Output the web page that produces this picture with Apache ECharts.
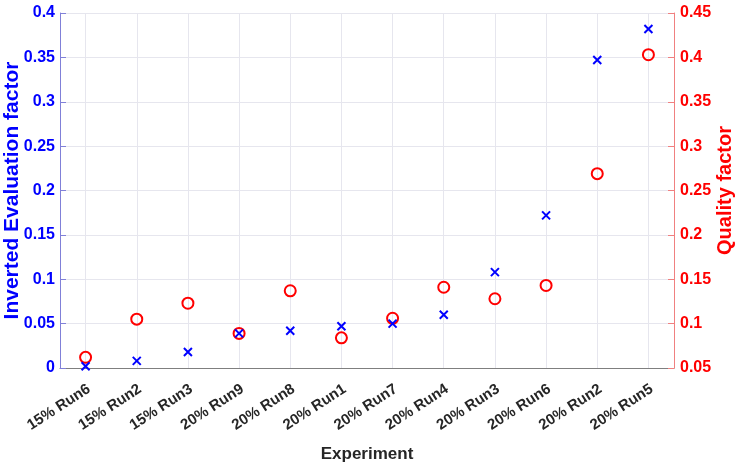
<!DOCTYPE html>
<html>
<head>
<meta charset="utf-8">
<script src="https://cdn.jsdelivr.net/npm/echarts@6/dist/echarts.min.js"></script>
<style>
  html, body { margin: 0; padding: 0; background: #fff; }
  #main { width: 736px; height: 475px; }
</style>
</head>
<body>
<div id="main"></div>
<script>
var experiments = ["15% Run6", "15% Run2", "15% Run3", "20% Run9", "20% Run8", "20% Run1",
  "20% Run7", "20% Run4", "20% Run3", "20% Run6", "20% Run2", "20% Run5"];
var invertedEval = [0.002, 0.008, 0.018, 0.039, 0.042, 0.047, 0.050, 0.060, 0.108, 0.172, 0.347, 0.382];
var qualityFactor = [0.062, 0.105, 0.123, 0.089, 0.137, 0.084, 0.106, 0.141, 0.128, 0.143, 0.269, 0.403];

var font = "Liberation Sans";
var myChart = echarts.init(document.getElementById("main"));

var option = {
  animation: false,
  textStyle: { fontFamily: font },
  grid: { left: 60, right: 62, top: 13, bottom: 107, containLabel: false, outerBoundsMode: "none" },
  xAxis: {
    type: "category",
    data: experiments,
    boundaryGap: true,
    name: "Experiment",
    nameLocation: "middle",
    nameGap: 78,
    nameMoveOverlap: false,
    nameTextStyle: { color: "#262626", fontSize: 17, fontWeight: "bold", fontFamily: font },
    axisLine: { lineStyle: { color: "#7f7f7f", width: 1 } },
    axisTick: { inside: true, alignWithLabel: true, length: 5, lineStyle: { color: "#7f7f7f" } },
    axisLabel: {
      rotate: 33, margin: 22, padding: [0, -4, 0, 0],
      color: "#262626", fontSize: 15, fontWeight: "bold", fontFamily: font
    },
    splitLine: { show: true, alignWithLabel: true, lineStyle: { color: "#e6e6ee" } }
  },
  yAxis: [
    {
      type: "value",
      min: 0,
      max: 0.4,
      interval: 0.05,
      name: "Inverted Evaluation factor",
      nameLocation: "middle",
      nameGap: 37,
      nameMoveOverlap: false,
      nameTextStyle: { color: "#0000ff", fontSize: 21, fontWeight: "bold", fontFamily: font },
      axisLine: { show: true, lineStyle: { color: "#8080d8" } },
      axisTick: { show: true, inside: true, length: 6, lineStyle: { color: "#8080d8" } },
      axisLabel: { margin: 5, color: "#0000ff", fontSize: 16, fontWeight: "bold", fontFamily: font },
      splitLine: { show: true, lineStyle: { color: "#e6e6ee" } }
    },
    {
      type: "value",
      min: 0.05,
      max: 0.45,
      interval: 0.05,
      name: "Quality factor",
      nameLocation: "middle",
      nameRotate: 90,
      nameGap: 41,
      nameMoveOverlap: false,
      nameTextStyle: { color: "#ff0000", fontSize: 20, fontWeight: "bold", fontFamily: font },
      axisLine: { show: true, lineStyle: { color: "#f08080" } },
      axisTick: { show: true, inside: true, length: 6, lineStyle: { color: "#f08080" } },
      axisLabel: {
        margin: 6, color: "#ff0000", fontSize: 16, fontWeight: "bold", fontFamily: font,
        formatter: function (v) { return +v.toFixed(2) + ""; }
      },
      splitLine: { show: false }
    }
  ],
  series: [
    {
      name: "Inverted Evaluation factor",
      type: "scatter",
      yAxisIndex: 0,
      data: invertedEval,
      symbol: "path://M0,0L10,10M10,0L0,10",
      symbolSize: 8,
      itemStyle: { color: "none", borderColor: "#0000ff", borderWidth: 2, opacity: 1 },
      z: 3
    },
    {
      name: "Quality factor",
      type: "scatter",
      yAxisIndex: 1,
      data: qualityFactor,
      symbol: "circle",
      symbolSize: 11,
      itemStyle: { color: "none", borderColor: "#ff0000", borderWidth: 2, opacity: 1 },
      z: 2
    }
  ]
};

myChart.setOption(option);
</script>
</body>
</html>
